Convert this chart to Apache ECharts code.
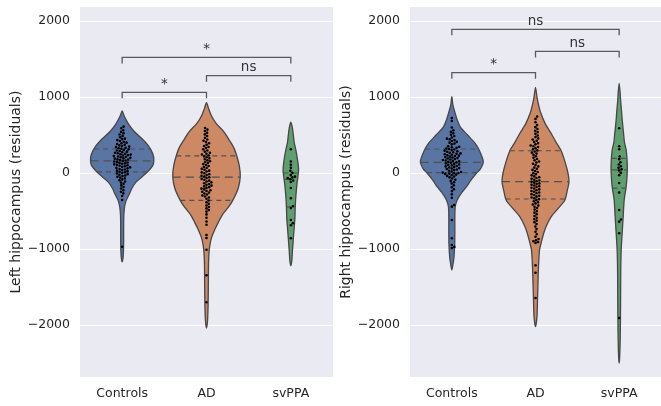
<!DOCTYPE html>
<html>
<head>
<meta charset="utf-8">
<script src="https://cdn.jsdelivr.net/npm/echarts@6/dist/echarts.min.js"></script>
<style>html,body{margin:0;padding:0;background:#fff}#c{width:661px;height:406px}</style>
</head>
<body>
<div id="c"></div>
<script>
// ---------------- DATA ----------------
const categories = ['Controls', 'AD', 'svPPA'];
const leftTitle = 'Left hippocampus (residuals)';
const rightTitle = 'Right hippocampus (residuals)';

// individual observations (swarm points)
const leftControls = [610, 588, 562, 541, 523, 507, 488, 471, 452, 446, 433, 421, 412, 399, 391, 382, 371, 363, 355, 347,
  341, 333, 326, 319, 311, 304, 296, 289, 281, 274, 266, 260, 253, 247, 242, 235, 231, 224, 218, 211,
  207, 199, 193, 189, 182, 176, 171, 164, 157, 151, 146, 139, 133, 127, 121, 114, 108, 101, 95, 88,
  81, 74, 67, 61, 53, 47, 39, 31, 24, 16, 9, 2, -7, -15, -24, -33, -41, -49, -60, -71,
  -84, -96, -111, -126, -142, -163, -184, -203, -226, -246, -268, -302, -355, -970];
const leftAD = [592, 571, 553, 530, 508, 486, 462, 441, 425, 408, 391, 372, 356, 342, 328, 311, 296, 281, 265, 252,
  243, 231, 219, 207, 193, 181, 168, 155, 144, 131, 117, 104, 92, 79, 66, 54, 43, 31, 19, 8, -4, -15, -26, -37, -46,
  -56, -67, -78, -89, -100, -112, -123, -135, -146, -156, -166, -176, -186, -196, -206, -216, -226, -236, -246,
  -258, -270, -283, -296, -309, -322, -340, -362, -384, -406, -428, -448,
  -466, -488, -508, -545, -590, -638, -681, -816, -855, -1010, -1345, -1700];
const leftSvPPA = [312, 152, 108, 68, 28, 2, -28, -48, -58, -68, -82, -98, -118, -198, -332, -438, -462, -618, -662, -688, -858];

const rightControls = [722, 684, 598, 561, 541, 522, 503, 486, 468, 452, 444, 433, 421, 410, 399, 388, 377, 351,
  346, 339, 331, 323, 316, 309, 301, 294, 287, 279, 272, 265, 258, 252,
  247, 241, 234, 228, 222, 215, 209, 203, 196, 190, 184, 178, 171, 165, 159, 153,
  147, 140, 134, 127, 120, 113, 107, 100, 93, 87, 80, 73, 66, 60, 53,
  46, 38, 29, 21, 13, 5, 0, -4, -8, -12, -21, -29, -38, -46, -57, -72, -88, -104, -121, -139,
  -162, -188, -213, -238, -279, -327, -421, -443, -618, -858, -948, -972, -988];
const rightAD = [742, 712, 668, 632, 603, 578, 556, 538, 515, 494, 472, 455, 441, 424, 409, 391, 377, 362, 351,
  342, 327, 312, 297, 283, 268, 255, 238, 219, 201, 184, 167, 152, 139, 121, 104, 87, 71, 56,
  41, 27, 13, -2, -16, -31, -45, -56, -66, -77, -88, -98, -108, -117, -127, -137, -146,
  -155, -165, -175, -185, -195, -205, -215, -226, -236, -246, -256, -267, -278, -289, -300, -311, -322, -333, -344,
  -357, -371, -386, -400, -415, -429, -444, -462, -481, -503, -522, -543, -565, -588, -607, -626, -648,
  -672, -705, -738, -772, -805, -838, -868, -884, -897, -908, -921, -1215, -1312, -1645];
const rightSvPPA = [588, 352, 312, 218, 182, 142, 112, 88, 68, 48, 32, 2, -28, -132, -258, -486, -612, -640, -792, -1908];

// violin outlines: [value, relative density]
const leftControlsShape = [[816,0],[750,.06],[650,.18],[550,.35],[450,.59],[350,.79],[250,.91],[170,.94],[100,.91],[20,.76],[-50,.59],[-120,.41],[-200,.29],[-280,.21],[-360,.12],[-450,.07],[-550,.05],[-700,.044],[-900,.044],[-1000,.04],[-1100,.03],[-1170,0]];
const leftADShape = [[925,0],[850,.06],[750,.15],[650,.29],[550,.5],[450,.65],[350,.79],[250,.88],[100,.97],[-50,1],[-200,.94],[-350,.79],[-450,.65],[-550,.47],[-650,.35],[-750,.24],[-850,.15],[-950,.1],[-1050,.074],[-1200,.06],[-1400,.056],[-1600,.052],[-1800,.044],[-1950,.03],[-2040,0]];
const leftSvPPAShape = [[670,0],[600,.044],[500,.074],[400,.1],[300,.15],[170,.2],[50,.23],[-50,.21],[-150,.18],[-300,.15],[-450,.13],[-600,.12],[-750,.094],[-900,.068],[-1050,.044],[-1150,.03],[-1220,0]];
const rightControlsShape = [[1004,0],[900,.03],[800,.09],[700,.16],[600,.26],[500,.47],[400,.68],[300,.82],[150,.94],[50,.85],[0,.74],[-100,.56],[-180,.44],[-260,.29],[-355,.16],[-450,.1],[-600,.09],[-800,.09],[-950,.085],[-1100,.065],[-1200,.035],[-1276,0]];
const rightADShape = [[1127,0],[1000,.044],[900,.09],[800,.15],[650,.29],[520,.47],[400,.62],[300,.76],[150,.88],[0,.97],[-114,1],[-250,.94],[-355,.88],[-450,.71],[-575,.47],[-700,.32],[-800,.24],[-900,.18],[-1013,.12],[-1232,.09],[-1450,.074],[-1670,.06],[-1890,.044],[-2022,0]];
const rightSvPPAShape = [[1180,0],[1050,.03],[950,.044],[800,.074],[700,.09],[526,.13],[400,.16],[300,.21],[130,.24],[0,.24],[-180,.21],[-355,.15],[-575,.12],[-790,.09],[-1013,.06],[-1300,.047],[-1700,.042],[-2100,.034],[-2350,.022],[-2460,.01],[-2500,0]];

// quartiles [Q1, median, Q3]
const leftQuartiles = [[15, 160, 316], [-360, -53, 224], [-445, -85, 0]];
const rightQuartiles = [[4, 140, 316], [-342, -114, 293], [-200, 40, 193]];

// significance brackets: [from category, to category, level]
const leftBrackets = [[0, 1, 1062], [1, 2, 1280], [0, 2, 1521]];
const leftBracketLabels = ['*', 'ns', '*'];
const rightBrackets = [[0, 1, 1320], [1, 2, 1600], [0, 2, 1890]];
const rightBracketLabels = ['*', 'ns', 'ns'];

// ---------------- STYLE ----------------
const FONT = 'DejaVu Sans';
const colors = ['#5975a4', '#cc8963', '#5f9e6e'];
const EDGE = '#474747';
const TEXT = '#262626';

function densityAt(shape, v) {
  for (let k = 0; k < shape.length - 1; k++) {
    const a = shape[k], b = shape[k + 1];
    if (v <= a[0] && v >= b[0]) {
      const t = (a[0] - v) / (a[0] - b[0]);
      return a[1] + t * (b[1] - a[1]);
    }
  }
  return 0;
}

function violinRender(shapes, quarts) {
  return function (params, api) {
    const i = api.value(0);
    const shape = shapes[i];
    const bw = api.size([1, 0])[0];
    const s = 0.4 * bw;
    const right = [], left = [];
    shape.forEach(function (p) {
      const c = api.coord([i, p[0]]);
      right.push([c[0] + p[1] * s, c[1]]);
      if (p[1] > 0) left.push([c[0] - p[1] * s, c[1]]);
    });
    const pts = right.concat(left.reverse());
    const children = [{
      type: 'polygon',
      shape: { points: pts, smooth: 0.25 },
      style: { fill: colors[i], stroke: EDGE, lineWidth: 1.3 }
    }];
    quarts[i].forEach(function (q, k) {
      const c = api.coord([i, q]);
      const hw = densityAt(shape, q) * s;
      children.push({
        type: 'line',
        shape: { x1: c[0] - hw, y1: c[1], x2: c[0] + hw, y2: c[1] },
        style: { stroke: '#505050', lineWidth: 1.2, lineDash: k === 1 ? [8, 5] : [5, 4] }
      });
    });
    return { type: 'group', children: children };
  };
}

function swarmRender(groups) {
  return function (params, api) {
    const i = api.value(0);
    const vals = groups[i].slice().sort(function (a, b) { return a - b; });
    const cx = api.coord([i, 0])[0];
    const D = 2.8, R = 1.3;
    const placed = [];
    const children = [];
    vals.forEach(function (v) {
      const y = api.coord([i, v])[1];
      const near = placed.filter(function (p) { return Math.abs(p[1] - y) < D; });
      const cands = [0];
      near.forEach(function (p) {
        const dx = Math.sqrt(D * D - (p[1] - y) * (p[1] - y));
        cands.push(p[0] + dx, p[0] - dx);
      });
      cands.sort(function (a, b) { return Math.abs(a) - Math.abs(b); });
      let x = 0;
      for (let k = 0; k < cands.length; k++) {
        const cx0 = cands[k];
        if (near.every(function (p) { return (p[0] - cx0) * (p[0] - cx0) + (p[1] - y) * (p[1] - y) >= D * D - 0.01; })) { x = cx0; break; }
      }
      placed.push([x, y]);
      children.push({ type: 'circle', shape: { cx: cx + x, cy: y, r: R }, style: { fill: '#000' } });
    });
    return { type: 'group', children: children };
  };
}

function bracketRender(brackets, labels) {
  return function (params, api) {
    const b = brackets[params.dataIndex];
    const p1 = api.coord([b[0], b[2]]);
    const p2 = api.coord([b[1], b[2]]);
    const drop = 6;
    return {
      type: 'group',
      children: [{
        type: 'polyline',
        shape: { points: [[p1[0], p1[1] + drop], [p1[0], p1[1]], [p2[0], p2[1]], [p2[0], p2[1] + drop]] },
        style: { stroke: '#5a5a5a', lineWidth: 1.3, fill: null }
      }, {
        type: 'text',
        x: (p1[0] + p2[0]) / 2, y: p1[1] - 1,
        style: { text: labels[params.dataIndex], fill: '#333', font: '13.5px ' + FONT, align: 'center', verticalAlign: 'bottom' }
      }]
    };
  };
}

function yAxis(gi, title) {
  return {
    type: 'value', gridIndex: gi, min: -2684, max: 2184,
    axisLine: { show: false }, axisTick: { show: false },
    axisLabel: {
      showMinLabel: false, showMaxLabel: false, color: TEXT, fontSize: 12.5, fontFamily: FONT, margin: 10,
      formatter: function (v) { return v < 0 ? '\u2212' + Math.abs(v) : String(v); }
    },
    splitLine: { show: true, showMinLine: false, showMaxLine: false, lineStyle: { color: '#ffffff', width: 1.2 } },
    name: title, nameLocation: 'middle', nameGap: 51,
    nameTextStyle: { color: TEXT, fontSize: 14, fontFamily: FONT }
  };
}
function xAxis(gi) {
  return {
    type: 'category', gridIndex: gi, data: categories,
    axisLine: { show: false }, axisTick: { show: false }, splitLine: { show: false },
    axisLabel: { color: TEXT, fontSize: 12.5, fontFamily: FONT, margin: 10 }
  };
}

const catItems = categories.map(function (c, k) { return [k]; });

const option = {
  animation: false,
  backgroundColor: '#ffffff',
  grid: [
    { left: 80, top: 7, width: 253, height: 370, show: true, backgroundColor: '#eaeaf2', borderWidth: 0 },
    { left: 410, top: 7, width: 253, height: 370, show: true, backgroundColor: '#eaeaf2', borderWidth: 0 }
  ],
  xAxis: [xAxis(0), xAxis(1)],
  yAxis: [yAxis(0, leftTitle), yAxis(1, rightTitle)],
  series: [
    { type: 'custom', xAxisIndex: 0, yAxisIndex: 0, data: catItems, encode: { x: 0 }, renderItem: violinRender([leftControlsShape, leftADShape, leftSvPPAShape], leftQuartiles), z: 2 },
    { type: 'custom', xAxisIndex: 0, yAxisIndex: 0, data: catItems, encode: { x: 0 }, renderItem: swarmRender([leftControls, leftAD, leftSvPPA]), z: 3 },
    { type: 'custom', xAxisIndex: 0, yAxisIndex: 0, data: leftBrackets.map(function (b) { return [b[0], b[2], b[1]]; }), encode: { x: 0, y: 1 }, renderItem: bracketRender(leftBrackets, leftBracketLabels), z: 4 },
    { type: 'custom', xAxisIndex: 1, yAxisIndex: 1, data: catItems, encode: { x: 0 }, renderItem: violinRender([rightControlsShape, rightADShape, rightSvPPAShape], rightQuartiles), z: 2 },
    { type: 'custom', xAxisIndex: 1, yAxisIndex: 1, data: catItems, encode: { x: 0 }, renderItem: swarmRender([rightControls, rightAD, rightSvPPA]), z: 3 },
    { type: 'custom', xAxisIndex: 1, yAxisIndex: 1, data: rightBrackets.map(function (b) { return [b[0], b[2], b[1]]; }), encode: { x: 0, y: 1 }, renderItem: bracketRender(rightBrackets, rightBracketLabels), z: 4 }
  ]
};
const chart = echarts.init(document.getElementById('c'), null, { renderer: 'canvas' });
chart.setOption(option);
</script>
</body>
</html>
